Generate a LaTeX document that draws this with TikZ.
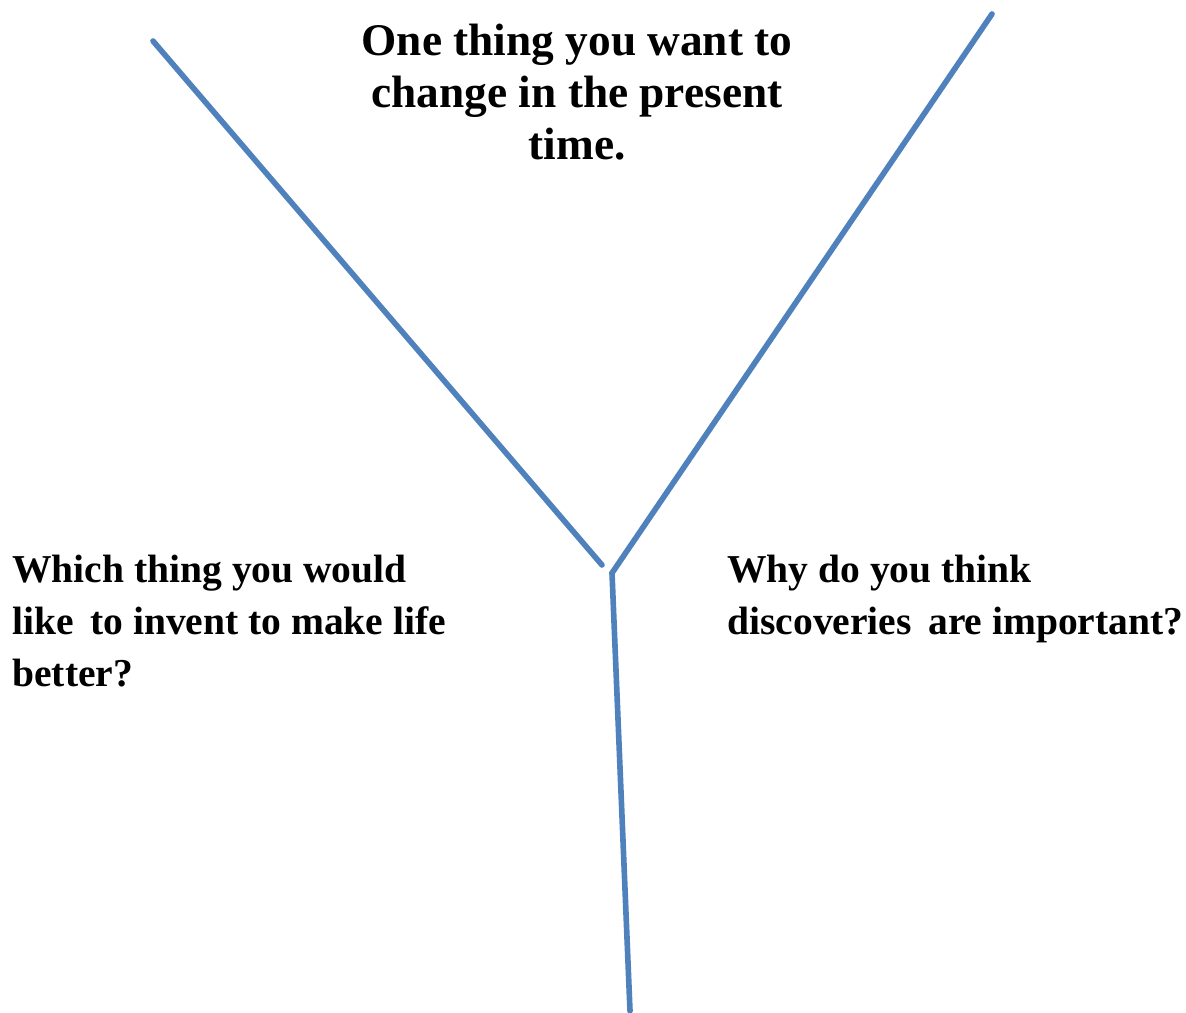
\documentclass[tikz,border=0pt]{standalone}
\usepackage{fontspec}
\setmainfont{Liberation Serif}
\usepackage{xcolor}
\definecolor{branchblue}{RGB}{79,129,189}

\begin{document}
\begin{tikzpicture}[x=0.02cm,y=-0.02cm,
    branch/.style={branchblue, line width=3.2pt, line cap=round},
    question/.style={inner sep=0pt, font=\bfseries\fontsize{22.5}{29.5}\selectfont}]
  \useasboundingbox (0,0) rectangle (1186,1013);

  % Ends of the Y
  \coordinate (topL) at (153,41);
  \coordinate (tipL) at (602,565);
  \coordinate (topR) at (992,14);
  \coordinate (joint) at (612,573);
  \coordinate (foot) at (630,1011);

  % The three branches
  \draw[branch] (topL) -- (tipL);
  \draw[branch] (topR) -- (joint) -- (foot);

  % Questions in the three fields
  \node[question, anchor=north, align=center,
        font=\bfseries\fontsize{25.8}{29.5}\selectfont] (present) at (577,24)
    {One thing you want to\\change in the present\\time.};
  \node[question, anchor=north west, align=left] (invent) at (12,555)
    {Which thing you would\\like\, to invent to make life\\better?};
  \node[question, anchor=north west, align=left] (discover) at (727,555)
    {Why do you think\\discoveries\, are important?};
\end{tikzpicture}
\end{document}
